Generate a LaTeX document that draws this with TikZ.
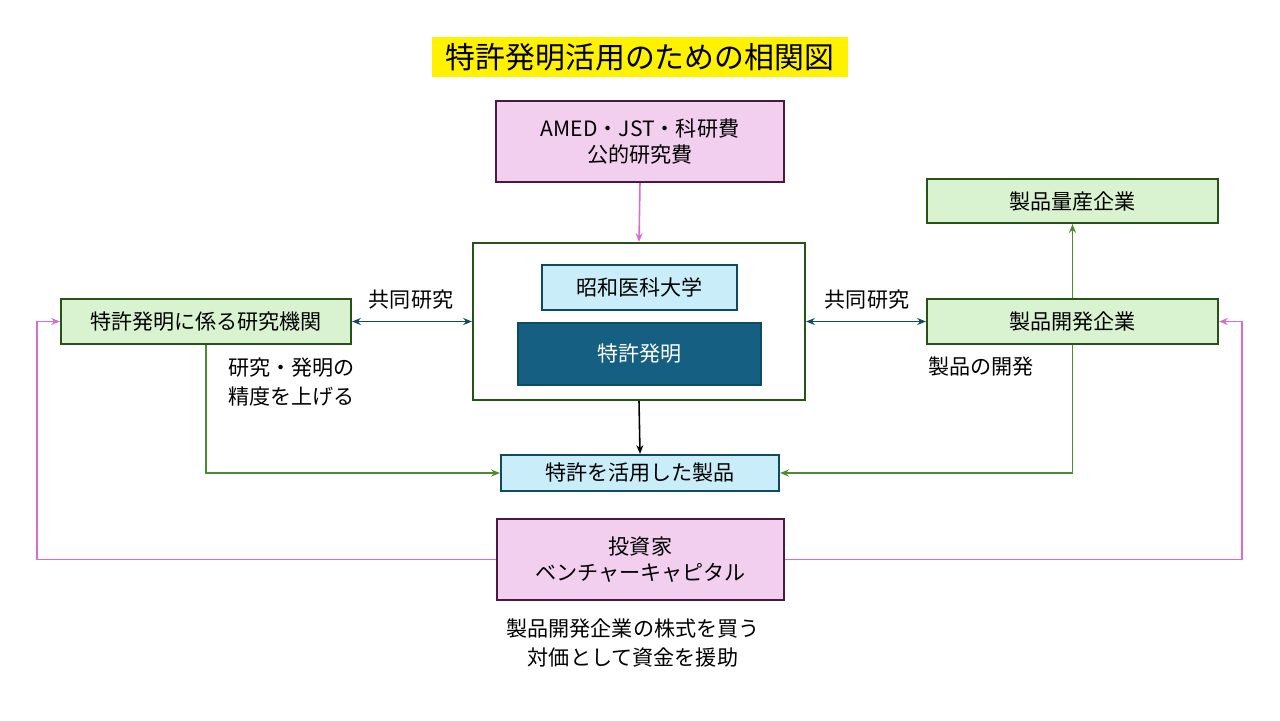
\documentclass[tikz,border=0pt]{standalone}
\usepackage{fontspec}
\setmainfont{Noto Sans CJK JP}
\usetikzlibrary{arrows.meta}
\definecolor{pinkf}{HTML}{F2CEEF}
\definecolor{pinkd}{HTML}{4A1942}
\definecolor{pinkl}{HTML}{D86ECC}
\definecolor{grnf}{HTML}{D9F2D0}
\definecolor{grnd}{HTML}{275317}
\definecolor{grnl}{HTML}{4E8A30}
\definecolor{bluf}{HTML}{C9EEFA}
\definecolor{blud}{HTML}{0E4B5E}
\definecolor{blum}{HTML}{156082}
\begin{document}
\begin{tikzpicture}[x=0.02cm,y=-0.02cm,
 box/.style={draw,line width=1.2pt,inner sep=0pt,font=\fontsize{12}{15}\selectfont,align=center},
 pk/.style={box,fill=pinkf,draw=pinkd},
 gn/.style={box,fill=grnf,draw=grnd},
 bl/.style={box,fill=bluf,draw=blud},
 lbl/.style={font=\fontsize{12}{15}\selectfont,inner sep=0pt},
 tip/.style={-{Stealth[length=5pt,width=4pt]}}]
\useasboundingbox (0,0) rectangle (1280,720);
\node[fill=yellow,minimum width=416*0.02cm,minimum height=40*0.02cm,inner sep=0pt,font=\fontsize{17}{20}\selectfont] (title) at (640,57) {特許発明活用のための相関図};
\node[pk,minimum width=288*0.02cm,minimum height=81*0.02cm] (amed) at (640,141.5) {AMED・JST・科研費\\公的研究費};
\node[box,draw=grnd,fill=white,minimum width=332*0.02cm,minimum height=157*0.02cm] (big) at (639,321.5) {};
\node[bl,minimum width=195*0.02cm,minimum height=45*0.02cm] (uni) at (639.5,287.5) {昭和医科大学};
\node[box,fill=blum,draw=blud,text=white,minimum width=243*0.02cm,minimum height=62*0.02cm] (pat) at (639.5,354) {特許発明};
\node[gn,minimum width=290*0.02cm,minimum height=45*0.02cm] (res) at (206,321.5) {特許発明に係る研究機関};
\node[gn,minimum width=291*0.02cm,minimum height=45*0.02cm] (dev) at (1072.5,321.5) {製品開発企業};
\node[gn,minimum width=291*0.02cm,minimum height=44*0.02cm] (mass) at (1072.5,201) {製品量産企業};
\node[bl,minimum width=278*0.02cm,minimum height=36*0.02cm] (prod) at (640,473) {特許を活用した製品};
\node[pk,minimum width=287*0.02cm,minimum height=81*0.02cm] (inv) at (640.5,559.5) {投資家\\ベンチャーキャピタル};
\node[lbl] (l1) at (411,300) {共同研究};
\node[lbl] (l2) at (867,300) {共同研究};
\node[lbl,anchor=west,align=left,font=\fontsize{12}{17}\selectfont] (l3) at (228,382) {研究・発明の\\精度を上げる};
\node[lbl,anchor=west] (l4) at (928,367) {製品の開発};
\node[lbl,align=center,font=\fontsize{12}{17}\selectfont] (l5) at (633,643) {製品開発企業の株式を買う\\対価として資金を援助};
\draw[pinkl,line width=0.9pt,tip] (amed.south) -- (big.north);
\draw[blud,line width=0.9pt,{Stealth[length=5pt,width=4pt]}-{Stealth[length=5pt,width=4pt]}] (res.east) -- (big.west);
\draw[blud,line width=0.9pt,{Stealth[length=5pt,width=4pt]}-{Stealth[length=5pt,width=4pt]}] (dev.west) -- (big.east);
\draw[black,line width=0.9pt,tip] (big.south) -- (prod.north);
\draw[grnl,line width=0.9pt,tip] (res.south) -- (206,473) -- (prod.west);
\draw[grnl,line width=0.9pt,tip] (dev.south) -- (1072.5,473) -- (prod.east);
\draw[grnl,line width=0.9pt,tip] (dev.north) -- (mass.south);
\draw[pinkl,line width=0.9pt,tip] (inv.west) -- (37,559.5) -- (37,321.5) -- (res.west);
\draw[pinkl,line width=0.9pt,tip] (inv.east) -- (1242,559.5) -- (1242,321.5) -- (dev.east);
\end{tikzpicture}
\end{document}
